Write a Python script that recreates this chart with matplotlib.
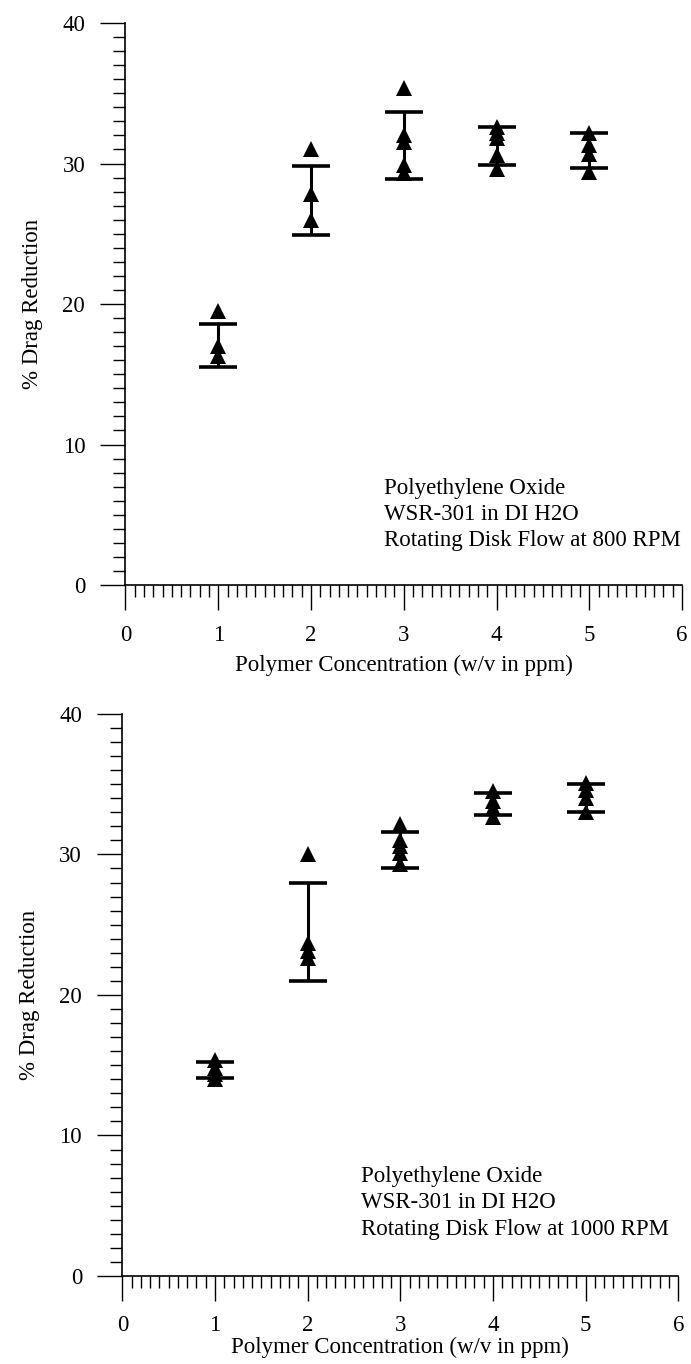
import matplotlib
matplotlib.use("Agg")
import matplotlib.pyplot as plt
from matplotlib.ticker import MultipleLocator

plt.rcParams['font.family'] = ['Liberation Serif', 'DejaVu Serif']

# ---------------- data ----------------
conc = [1, 2, 3, 4, 5]

# 800 RPM: individual runs (x, % drag reduction)
x800 = [1, 1, 1,
        2, 2, 2,
        3, 3, 3, 3, 3,
        4, 4, 4, 4, 4,
        5, 5, 5, 5]
y800 = [19.5, 17.0, 16.3,
        31.0, 27.8, 26.0,
        35.4, 32.0, 31.5, 29.9, 29.3,
        32.6, 32.2, 31.8, 30.6, 29.6,
        32.2, 31.3, 30.7, 29.4]
lo800 = [15.5, 24.9, 28.9, 29.9, 29.7]
hi800 = [18.6, 29.8, 33.7, 32.6, 32.2]

# 1000 RPM
x1000 = [1, 1, 1, 1,
         2, 2, 2, 2,
         3, 3, 3, 3, 3,
         4, 4, 4, 4,
         5, 5, 5, 5]
y1000 = [15.4, 14.8, 14.4, 14.0,
         30.0, 23.7, 23.1, 22.6,
         32.2, 31.0, 30.6, 30.1, 29.3,
         34.5, 33.8, 33.3, 32.7,
         35.1, 34.6, 34.0, 33.0]
lo1000 = [14.1, 21.0, 29.0, 32.8, 33.0]
hi1000 = [15.2, 28.0, 31.6, 34.4, 35.0]

xticks = [0, 1, 2, 3, 4, 5, 6]
yticks = [0, 10, 20, 30, 40]
xlabel = "Polymer Concentration (w/v in ppm)"
ylabel = "% Drag Reduction"
note800 = "Polyethylene Oxide\nWSR-301 in DI H2O\nRotating Disk Flow at 800 RPM"
note1000 = "Polyethylene Oxide\nWSR-301 in DI H2O\nRotating Disk Flow at 1000 RPM"

FS = 16.5

fig = plt.figure(figsize=(6.91, 13.64), dpi=100)
ax1 = fig.add_axes([0.1816, 0.5711, 0.8054, 0.4120])
ax2 = fig.add_axes([0.1771, 0.0645, 0.8045, 0.4121])


def draw(ax, xs, ys, lo, hi, note, nx, ny, xpad, tpad):
    mid = [(a + b) / 2 for a, b in zip(lo, hi)]
    err = [(b - a) / 2 for a, b in zip(lo, hi)]
    ax.errorbar(conc, mid, yerr=err, fmt='none', ecolor='black',
                elinewidth=2.2, capsize=14, capthick=2.6, zorder=2)
    ax.plot(xs, ys, linestyle='none', marker='^', markersize=11.5,
            color='black', markeredgewidth=0, zorder=3)
    ax.set_xlim(0, 6)
    ax.set_ylim(0, 40)
    ax.set_xticks(xticks)
    ax.set_yticks(yticks)
    ax.xaxis.set_minor_locator(MultipleLocator(0.1))
    ax.yaxis.set_minor_locator(MultipleLocator(1))
    ax.tick_params(which='major', direction='out', length=18, width=1.0,
                   labelsize=FS, pad=11, color='black')
    ax.tick_params(axis='x', which='major', pad=tpad)
    ax.tick_params(which='minor', direction='out', length=8.5, width=1.0,
                   color='black')
    for s in ['top', 'right']:
        ax.spines[s].set_visible(False)
    for s in ['left', 'bottom']:
        ax.spines[s].set_linewidth(1.2)
    ax.set_xlabel(xlabel, fontsize=FS, labelpad=xpad)
    ax.set_ylabel(ylabel, fontsize=FS, labelpad=14)
    ax.text(nx, ny, note, fontsize=FS, ha='left', va='center',
            linespacing=1.32)


draw(ax1, x800, y800, lo800, hi800, note800, 2.79, 5.0, 6, 11)
draw(ax2, x1000, y1000, lo1000, hi1000, note1000, 2.58, 5.2, 1, 10)

fig.savefig("out.png", dpi=100)
